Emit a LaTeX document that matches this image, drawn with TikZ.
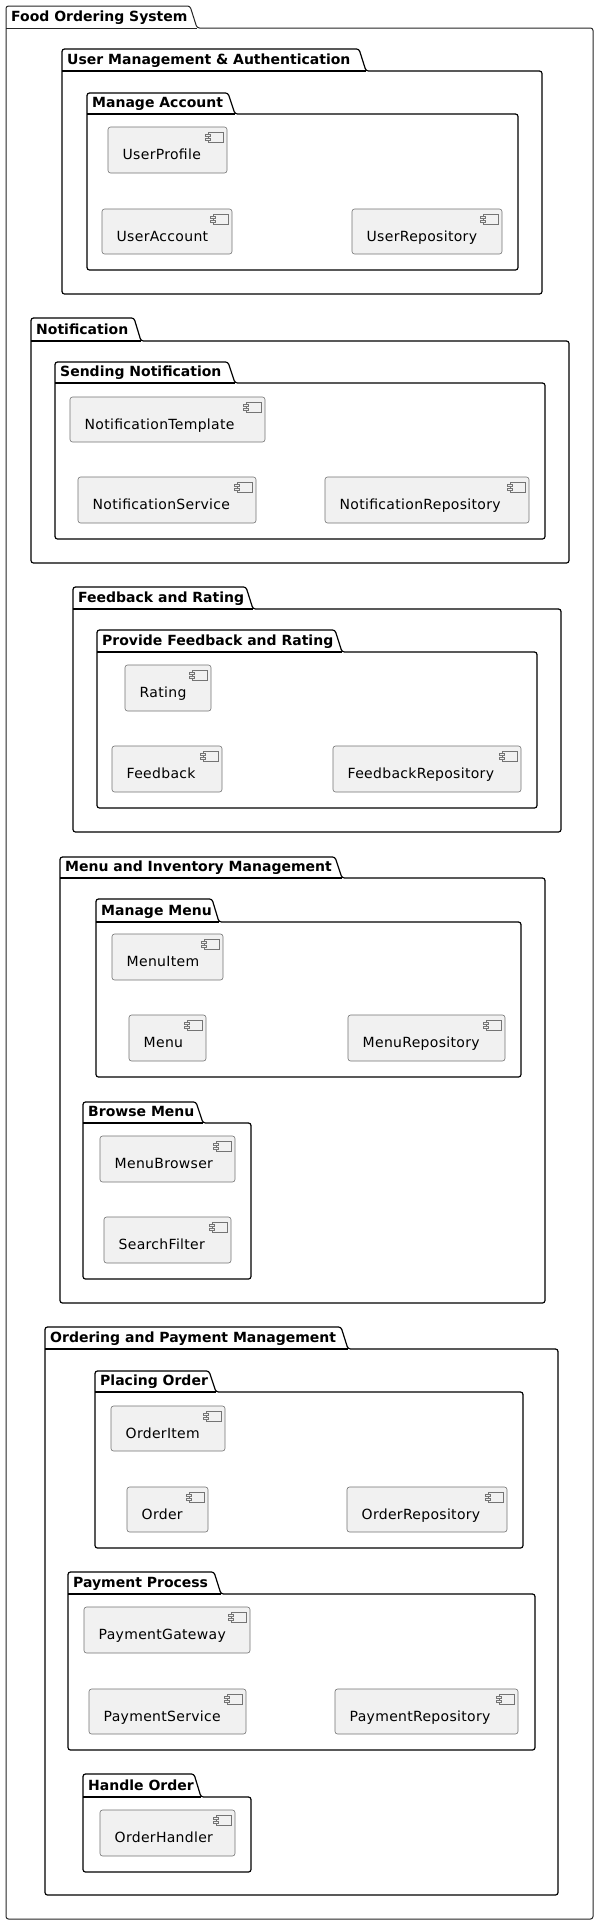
\documentclass[tikz,border=0pt]{standalone}
\usepackage{fontspec}
\setmainfont{DejaVu Sans}
\newfontfamily\complabelfont{DejaVu Sans}[LetterSpace=2.2]
\definecolor{compfill}{HTML}{F1F1F1}
\definecolor{compdraw}{HTML}{181818}
\tikzset{
 pkgline/.style={draw=black, line width=1.2pt, line join=round},
 outerline/.style={draw=black!85, line width=1pt, line join=round},
 ttl/.style={font=\fontsize{14}{16}\selectfont\bfseries, inner sep=0pt, anchor=base west},
 comp/.style={draw=compdraw!60, fill=compfill, line width=0.6pt, rounded corners=2.5pt, inner sep=0pt, outer sep=0pt, anchor=north west},
 clabel/.style={font=\complabelfont\fontsize{14}{16}\selectfont, inner sep=0pt, anchor=base west},
 iconbody/.style={draw=compdraw!60, line width=0.5pt, fill=compfill},
}
% [style]{name}{L}{TT}{FT}{SX}{R}{B}{title}
\newcommand\pkgbox[9][pkgline]{%
 \draw[#1, rounded corners=2.5pt] (#3,#8) -- (#3,#4) -- (#6,#4) -- (#6+7,#5) -- (#7,#5) -- (#7,#8) -- cycle;
 \draw[#1] (#3,#5) -- (#6+7,#5);
 \node[ttl] (#2) at (#3+5,#5-6.5) {#9};
}
% {name}{x1}{y1}{x2}{y2}{text}
\newcommand\comp[6]{%
 \node[comp, minimum width={(#4-#2)*1pt}, minimum height={(#5-#3)*1pt}] (#1) at (#2,#3) {};
 \draw[iconbody] ([shift={(-19,5)}]#1.north east) rectangle ++(15,10);
 \draw[iconbody] ([shift={(-21.5,7)}]#1.north east) rectangle ++(5,2.5);
 \draw[iconbody] ([shift={(-21.5,11)}]#1.north east) rectangle ++(5,2.5);
 \node[clabel] (#1-l) at ([shift={(14.5,32.5)}]#1.north west) {#6};
}
\begin{document}
\begin{tikzpicture}[x=1pt,y=-1pt]
\fill[white] (0,0) rectangle (599,1925);
\useasboundingbox (0,0) rectangle (599,1925);

\pkgbox[outerline]{fos}{6}{6}{28}{190}{593}{1919}{Food Ordering System}

% User Management
\pkgbox{uma}{62}{49}{71}{359}{542}{294}{User Management \& Authentication}
\pkgbox{ma}{87}{93}{114}{228}{518}{270}{Manage Account}
\comp{userprofile}{108}{127}{227}{173}{UserProfile}
\comp{useraccount}{102}{209}{232}{254}{UserAccount}
\comp{userrepo}{352}{209}{502}{254}{UserRepository}

% Notification
\pkgbox{notif}{31}{318}{341}{134}{569}{563}{Notification}
\pkgbox{sn}{55}{362}{383}{228}{545}{539}{Sending Notification}
\comp{ntemplate}{70}{397}{265}{442}{NotificationTemplate}
\comp{nservice}{78}{477}{256}{523}{NotificationService}
\comp{nrepo}{325}{477}{529}{523}{NotificationRepository}

% Feedback
\pkgbox{fr}{73}{587}{609}{246}{561}{832}{Feedback and Rating}
\pkgbox{pfr}{97}{630}{652}{335}{537}{808}{Provide Feedback and Rating}
\comp{rating}{125}{665}{211}{711}{Rating}
\comp{feedback}{112}{746}{222}{792}{Feedback}
\comp{frepo}{333}{746}{521}{792}{FeedbackRepository}

% Menu
\pkgbox{mim}{60}{857}{878}{335}{545}{1303}{Menu and Inventory Management}
\pkgbox{mm}{96}{899}{922}{212}{521}{1077}{Manage Menu}
\comp{menuitem}{112}{934}{223}{980}{MenuItem}
\comp{menu}{129}{1015}{206}{1061}{Menu}
\comp{menurepo}{348}{1015}{505}{1061}{MenuRepository}
\pkgbox{bm}{83}{1102}{1123}{196}{251}{1279}{Browse Menu}
\comp{menubrowser}{100}{1136}{235}{1182}{MenuBrowser}
\comp{searchfilter}{104}{1217}{231}{1263}{SearchFilter}

% Ordering and Payment
\pkgbox{opm}{45}{1327}{1349}{341}{558}{1895}{Ordering and Payment Management}
\pkgbox{po}{95}{1371}{1392}{209}{523}{1548}{Placing Order}
\comp{orderitem}{111}{1406}{225}{1451}{OrderItem}
\comp{order}{127}{1487}{208}{1532}{Order}
\comp{orderrepo}{347}{1487}{507}{1532}{OrderRepository}
\pkgbox{pp}{68}{1572}{1594}{214}{535}{1750}{Payment Process}
\comp{pgateway}{84}{1607}{250}{1653}{PaymentGateway}
\comp{pservice}{89}{1689}{246}{1734}{PaymentService}
\comp{prepo}{335}{1689}{518}{1734}{PaymentRepository}
\pkgbox{ho}{83}{1774}{1797}{194}{251}{1872}{Handle Order}
\comp{orderhandler}{100}{1810}{235}{1856}{OrderHandler}
\end{tikzpicture}
\end{document}
